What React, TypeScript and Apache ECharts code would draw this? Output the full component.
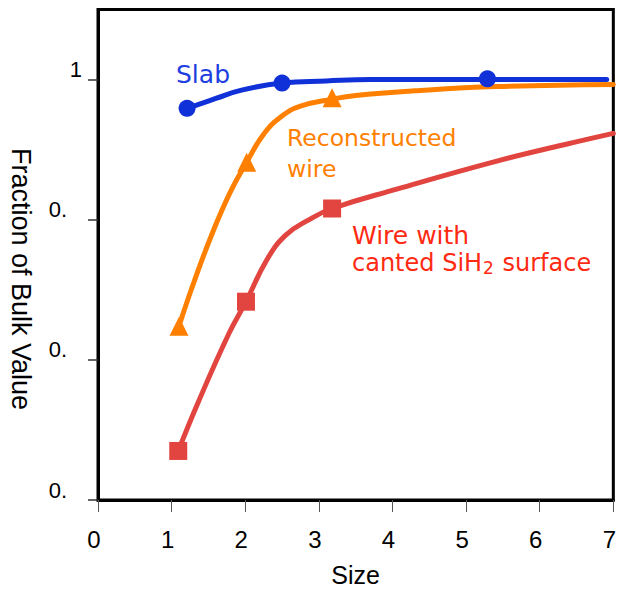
import React, { useEffect, useRef } from "react";
import * as echarts from "echarts";

// Axis ticks
const xTickValues = [0, 1, 2, 3, 4, 5, 6, 7];
const yTickValues = [0.7, 0.8, 0.9, 1.0];

// Slab (blue)
const slabLineX = [1.21, 1.6, 1.95, 2.5, 3.1, 3.7, 5.29, 6.91];
const slabLineY = [0.9795, 0.9865, 0.9925, 0.9975, 0.999, 1.0, 1.0, 1.0];
const slabMarkX = [1.21, 2.5, 5.29];
const slabMarkY = [0.9795, 0.9975, 1.0005];

// Reconstructed wire (orange)
const reconLineX = [1.1, 1.3, 1.55, 1.8, 2.02, 2.25, 2.5, 2.75, 3.18, 3.5, 4.3, 5.42, 7.0];
const reconLineY = [0.824, 0.855, 0.89, 0.92, 0.941, 0.961, 0.974, 0.981, 0.986, 0.9887, 0.992, 0.995, 0.9965];
const reconMarkX = [1.1, 2.02, 3.18];
const reconMarkY = [0.824, 0.941, 0.987];

// Wire with canted SiH2 surface (red)
const cantedLineX = [1.09, 1.36, 1.78, 2.01, 2.3, 2.55, 2.85, 3.18, 4.07, 5.43, 6.33, 7.0];
const cantedLineY = [0.735, 0.7696, 0.819, 0.8415, 0.872, 0.889, 0.8995, 0.908, 0.922, 0.942, 0.9535, 0.9616];
const cantedMarkX = [1.09, 2.01, 3.18];
const cantedMarkY = [0.735, 0.8415, 0.908];

const BLUE = "#1030d8";
const ORANGE = "#ff8000";
const RED = "#e2453f";
const RED_TEXT = "#ff2a12";

const zip = (xs: number[], ys: number[]) => xs.map((x, i) => [x, ys[i]]);

export default function App() {
  const ref = useRef<HTMLDivElement>(null);

  useEffect(() => {
    if (!ref.current) return;
    const chart = echarts.init(ref.current, null, { renderer: "svg" });
    const lineSeries = (name: string, xs: number[], ys: number[], color: string) => ({
      name,
      type: "line",
      data: zip(xs, ys),
      smooth: 0.45,
      showSymbol: false,
      symbol: "none",
      lineStyle: { color, width: 5, cap: "round", join: "round" },
      z: 2,
    });
    const markSeries = (name: string, xs: number[], ys: number[], color: string, symbol: string, size: number) => ({
      name,
      type: "scatter",
      data: zip(xs, ys),
      symbol,
      symbolSize: size,
      itemStyle: { color, opacity: 1 },
      z: 3,
    });

    chart.setOption({
      animation: false,
      backgroundColor: "#ffffff",
      grid: {
        left: 98,
        right: 2.5,
        top: 9.5,
        bottom: 87,
        show: true,
        borderColor: "#000",
        borderWidth: 3,
        backgroundColor: "transparent",
      },
      xAxis: {
        type: "value",
        min: 0,
        max: 7,
        interval: 1,
        name: "Size",
        nameLocation: "middle",
        nameGap: 62,
        nameTextStyle: { fontFamily: "Liberation Sans", fontSize: 25, color: "#000" },
        axisLine: { show: true, onZero: false, lineStyle: { color: "#000", width: 3 } },
        splitLine: { show: false },
        axisTick: { show: true, length: 12, customValues: xTickValues, lineStyle: { color: "#555", width: 1 } },
        axisLabel: {
          customValues: xTickValues,
          fontFamily: "Liberation Sans",
          fontSize: 24,
          color: "#000",
          margin: 27,
          padding: [0, 8, 0, 0],
        },
      },
      yAxis: {
        type: "value",
        min: 0.7,
        max: 1.05,
        interval: 0.1,
        axisLine: { show: true, onZero: false, lineStyle: { color: "#000", width: 3 } },
        splitLine: { show: false },
        axisTick: { show: true, length: 10, customValues: yTickValues, lineStyle: { color: "#333", width: 1.5 } },
        axisLabel: {
          customValues: yTickValues,
          fontFamily: "Liberation Sans",
          fontSize: 22,
          color: "#000",
          margin: 16,
          verticalAlign: "bottom",
          lineHeight: 20,
          formatter: (v: number) => (Math.abs(v - 1) < 1e-6 ? "1" : "{z|0.}"),
          rich: {
            z: {
              fontFamily: "Liberation Sans",
              fontSize: 22,
              color: "#000",
              lineHeight: 20,
              padding: [0, 15, 0, 0],
            },
          },
        },
      },
      series: [
        lineSeries("Slab", slabLineX, slabLineY, BLUE),
        markSeries("Slab points", slabMarkX, slabMarkY, BLUE, "circle", 17),
        lineSeries("Reconstructed wire", reconLineX, reconLineY, ORANGE),
        markSeries("Reconstructed wire points", reconMarkX, reconMarkY, ORANGE, "triangle", 19),
        lineSeries("Wire with canted SiH2 surface", cantedLineX, cantedLineY, RED),
        markSeries("Wire with canted SiH2 surface points", cantedMarkX, cantedMarkY, RED, "rect", 18),
      ],
      graphic: [
        {
          type: "text",
          x: 21,
          y: 279,
          rotation: -Math.PI / 2,
          style: { text: "Fraction of Bulk Value", fill: "#000", fontFamily: "Liberation Sans", fontSize: 27, textAlign: "center", textVerticalAlign: "middle" },
        },
        {
          type: "text",
          x: 176,
          y: 74.5,
          style: { text: "Slab", fill: "#1f40e0", fontFamily: "DejaVu Sans", fontSize: 25, textAlign: "left", textVerticalAlign: "middle" },
        },
        {
          type: "text",
          x: 287,
          y: 138,
          style: { text: "Reconstructed", fill: ORANGE, fontFamily: "DejaVu Sans", fontSize: 23.5, textAlign: "left", textVerticalAlign: "middle" },
        },
        {
          type: "text",
          x: 287,
          y: 168.5,
          style: { text: "wire", fill: ORANGE, fontFamily: "DejaVu Sans", fontSize: 23.5, textAlign: "left", textVerticalAlign: "middle" },
        },
        {
          type: "text",
          x: 352,
          y: 235,
          style: { text: "Wire with", fill: RED_TEXT, fontFamily: "DejaVu Sans", fontSize: 25, textAlign: "left", textVerticalAlign: "middle" },
        },
        {
          type: "text",
          x: 352,
          y: 263,
          style: {
            text: "canted SiH{s|2} surface",
            fill: RED_TEXT,
            fontFamily: "DejaVu Sans",
            fontSize: 24,
            textAlign: "left",
            textVerticalAlign: "middle",
            rich: {
              s: { fill: RED_TEXT, fontFamily: "DejaVu Sans", fontSize: 17, padding: [9, 1, 0, 1] },
            },
          },
        },
      ],
    });
    return () => chart.dispose();
  }, []);

  return (
    <div
      ref={ref}
      style={{ position: "fixed", left: 0, top: 0, width: 619, height: 592, background: "#fff" }}
    />
  );
}
